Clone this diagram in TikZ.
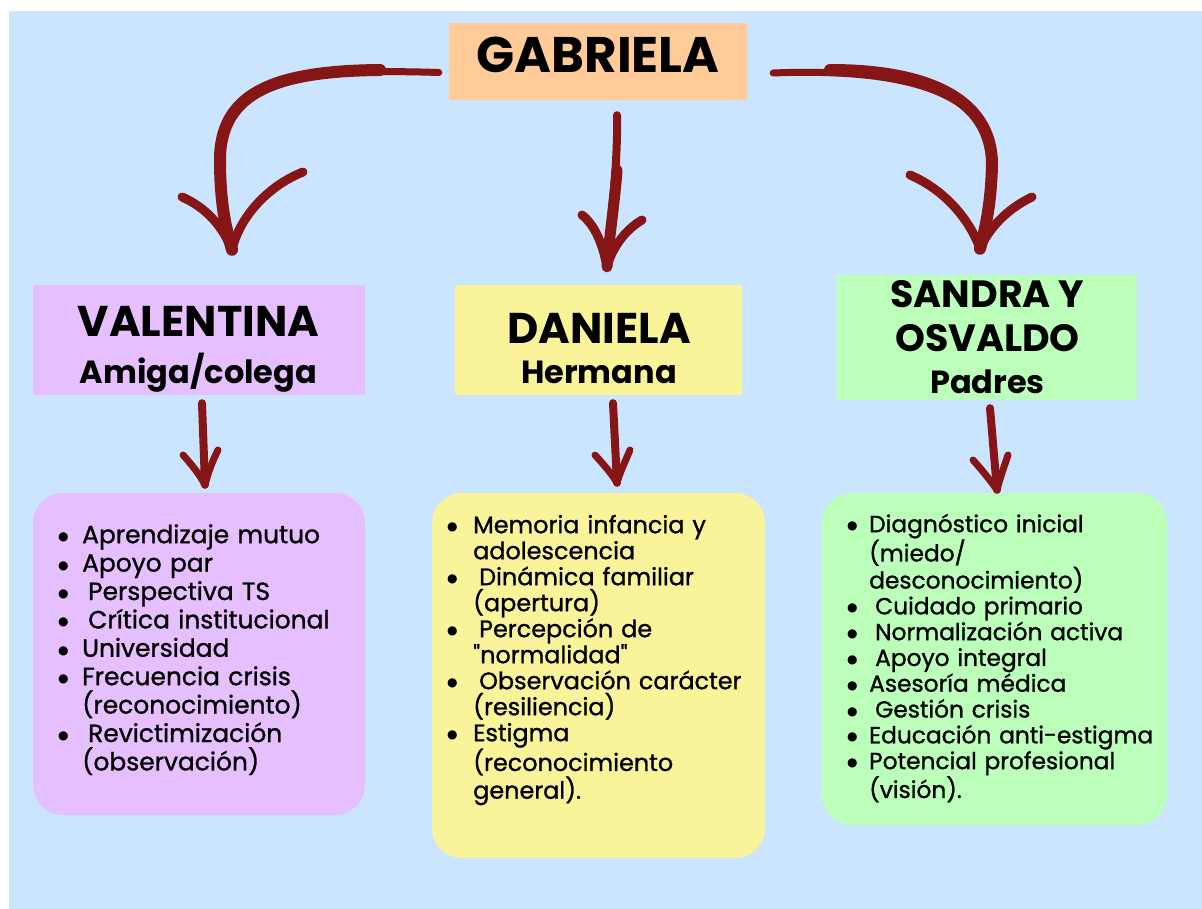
\documentclass[tikz,border=0pt]{standalone}
\usepackage{fontspec}
\setmainfont{Poppins}
\newfontfamily\bodyf{Poppins}[FakeBold=1.0]
\newfontfamily\dejavu{DejaVu Sans}
\usetikzlibrary{calc}
\definecolor{bg}{HTML}{CCE5FF}
\definecolor{peach}{HTML}{FFCC99}
\definecolor{lav}{HTML}{E6BFFF}
\definecolor{yel}{HTML}{F9F39A}
\definecolor{grn}{HTML}{BBFFBB}
\definecolor{brushc}{HTML}{861515}
\newlength{\bw}
\newcommand{\bl}{\makebox[\bw][l]{\raisebox{2.5pt}{\dejavu\fontsize{12}{0}\selectfont ●}}}
\newcommand{\cl}{\hspace*{\bw}}
\newcommand{\ls}{\hspace*{6pt}}
\tikzset{
  box/.style={inner sep=0, minimum width=#1},
  hd/.style={font=\bfseries\fontsize{43}{45}\selectfont, inner sep=0, anchor=base},
  sub/.style={font=\bfseries\fontsize{32}{34}\selectfont, inner sep=0, anchor=base},
  lst/.style={anchor=north west, inner sep=0, text width=340, align=left},
  brush/.style={draw=brushc, line width=12, line cap=round},
  barb/.style={draw=brushc, line width=9, line cap=round},
  sbrush/.style={draw=brushc, line width=8, line cap=round},
  sbarb/.style={draw=brushc, line width=7, line cap=round},
}
\begin{document}
\begin{tikzpicture}[x=1pt,y=-1pt]
\useasboundingbox (0,0) rectangle (1202,909);
\fill[white] (0,0) rectangle (1202,909);
\fill[bg] (9,11) rectangle (1202,909);

% boxes
\node[box=298, minimum height=77, fill=peach] (gab) at (598,61.5) {};
\node[box=332, minimum height=110, fill=lav] (val) at (199,340) {};
\node[box=287, minimum height=110, fill=yel] (dan) at (598.5,340) {};
\node[box=300, minimum height=125, fill=grn] (san) at (987,337.5) {};
\node[box=332, minimum height=322, fill=lav, rounded corners=30] (vlist) at (199,654) {};
\node[box=333, minimum height=365, fill=yel, rounded corners=30] (dlist) at (598.5,675.5) {};
\node[box=345, minimum height=332, fill=grn, rounded corners=30] (slist) at (994.5,659) {};

% headings
\node[hd, font=\bfseries\fontsize{50}{52}\selectfont] (gabt) at (598,73) {GABRIELA};
\node[hd] (valt) at (198.5,337) {VALENTINA};
\node[sub] (vals) at (198.5,383) {Amiga/colega};
\node[hd] (dant) at (599,343) {DANIELA};
\node[sub] (dans) at (599,383) {Hermana};
\node[hd, font=\bfseries\fontsize{38}{40}\selectfont] (sant1) at (987.5,308) {SANDRA Y};
\node[hd, font=\bfseries\fontsize{38}{40}\selectfont] (sant2) at (987.5,352) {OSVALDO};
\node[sub] (sans) at (987.5,393) {Padres};

% lists
\node[lst, font=\bodyf\fontsize{24.9}{28.4}\selectfont] (vtext) at (58,523) {\setlength{\bw}{24pt}%
\rule{0pt}{20pt}\bl Aprendizaje mutuo\\
\bl Apoyo par\\
\bl\ls Perspectiva TS\\
\bl\ls Crítica institucional\\
\bl Universidad\\
\bl Frecuencia crisis\\
\cl(reconocimiento)\\
\bl\ls Revictimización\\
\cl(observación)};

\node[lst, font=\bodyf\fontsize{23.9}{26}\selectfont] (dtext) at (447,513) {\setlength{\bw}{26pt}%
\rule{0pt}{20pt}\bl Memoria infancia y\\
\cl adolescencia\\
\bl\ls Dinámica familiar\\
\cl(apertura)\\
\bl\ls Percepción de\\
\cl\char34 normalidad\char34\\
\bl\ls Observación carácter\\
\cl(resiliencia)\\
\bl Estigma\\
\cl(reconocimiento\\
\cl general).};

\node[lst, font=\bodyf\fontsize{23.3}{25.8}\selectfont] (stext) at (847,512) {\setlength{\bw}{22pt}%
\rule{0pt}{20pt}\bl Diagnóstico inicial\\
\cl(miedo/\\
\cl desconocimiento)\\
\bl\ls Cuidado primario\\
\bl\ls Normalización activa\\
\bl\ls Apoyo integral\\
\bl Asesoría médica\\
\bl\ls Gestión crisis\\
\bl Educación anti-estigma\\
\bl Potencial profesional\\
\cl(visión).};

% big arrows
\coordinate (a1s) at ($(gab.west)+(-10,11)$);
\coordinate (a1t) at ($(val.north)+(33,-35)$);
\draw[brush, line width=7] (a1s) .. controls (300,68) and (220,80) .. (220,160);
\draw[brush] (380,70) .. controls (280,71) and (220,90) .. (220,160) .. controls (220,210) and (228,235) .. (a1t);
\draw[barb] (182,197) .. controls (205,207) and (222,225) .. (a1t);
\draw[barb] (303,172) .. controls (270,185) and (240,215) .. (a1t);

\coordinate (a2s) at ($(gab.south)+(19,15)$);
\coordinate (a2t) at ($(dan.north)+(8.5,-18)$);
\draw[brush, line width=8] (a2s) .. controls (618,170) and (610,220) .. (a2t);
\draw[brush, line width=11] (617,170) .. controls (615,200) and (610,230) .. (a2t);
\draw[barb] (582,215) .. controls (595,225) and (603,245) .. (a2t);
\draw[barb] (642,220) .. controls (625,230) and (612,248) .. (a2t);

\coordinate (a3s) at ($(gab.east)+(26,11.5)$);
\coordinate (a3t) at ($(san.north)+(-7,-26)$);
\draw[brush, line width=7] (a3s) .. controls (900,68) and (993,90) .. (992,165);
\draw[brush] (830,70) .. controls (920,70) and (992,95) .. (992,165) .. controls (991,205) and (985,230) .. (a3t);
\draw[barb] (910,175) .. controls (945,190) and (970,220) .. (a3t);
\draw[barb] (1032,197) .. controls (1005,210) and (988,230) .. (a3t);

% small arrows
\coordinate (b1s) at ($(val.south)+(3,8)$);
\coordinate (b1t) at ($(vlist.north)+(6,-8)$);
\draw[sbrush] (b1s) -- (b1t);
\draw[sbarb] (183,455) .. controls (192,465) and (200,475) .. (b1t);
\draw[sbarb] (218,450) .. controls (212,462) and (208,473) .. (b1t);

\coordinate (b2s) at ($(dan.south)+(14.5,8)$);
\coordinate (b2t) at ($(dlist.north)+(18.5,-10)$);
\draw[sbrush] (b2s) -- (b2t);
\draw[sbarb] (595,455) .. controls (604,465) and (612,474) .. (b2t);
\draw[sbarb] (630,450) .. controls (625,462) and (620,472) .. (b2t);

\coordinate (b3s) at ($(san.south)+(3,8)$);
\coordinate (b3t) at ($(slist.north)+(2.5,-3)$);
\draw[sbrush] (b3s) -- (b3t);
\draw[sbarb] (973,460) .. controls (982,470) and (990,480) .. (b3t);
\draw[sbarb] (1008,455) .. controls (1004,467) and (1000,478) .. (b3t);
\end{tikzpicture}
\end{document}
